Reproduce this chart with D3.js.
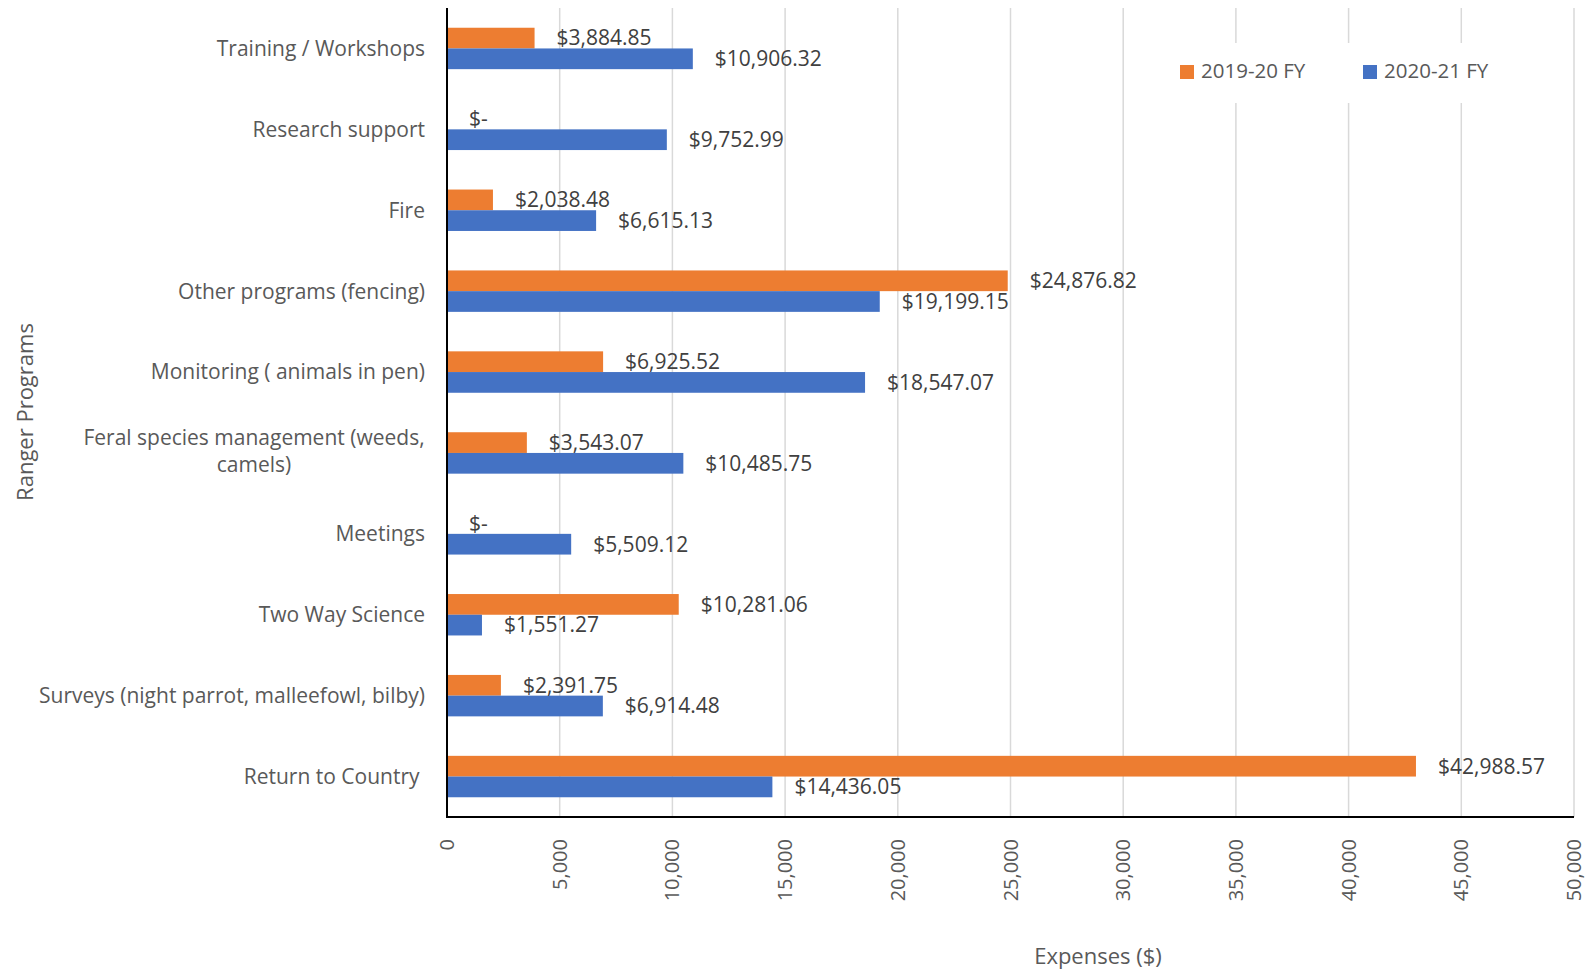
<!DOCTYPE html>
<html>
<head>
<meta charset="utf-8">
<script src="https://cdn.jsdelivr.net/npm/d3@7"></script>
<style>
  html, body { margin: 0; padding: 0; background: #ffffff; }
  svg { display: block; font-family: "Open Sans", "DejaVu Sans", sans-serif; }
</style>
</head>
<body>
<svg id="chart" width="1588" height="972"></svg>
<script>
// Ranger program expenses by financial year
const categories = [
  "Training / Workshops",
  "Research support",
  "Fire",
  "Other programs (fencing)",
  "Monitoring ( animals in pen)",
  "Feral species management (weeds,\ncamels)",
  "Meetings",
  "Two Way Science",
  "Surveys (night parrot, malleefowl, bilby)",
  "Return to Country "
];
const seriesNames = ["2019-20 FY", "2020-21 FY"];
const fy2019 = [3884.85, 0, 2038.48, 24876.82, 6925.52, 3543.07, 0, 10281.06, 2391.75, 42988.57];
const fy2020 = [10906.32, 9752.99, 6615.13, 19199.15, 18547.07, 10485.75, 5509.12, 1551.27, 6914.48, 14436.05];
const xTicks = [0, 5000, 10000, 15000, 20000, 25000, 30000, 35000, 40000, 45000, 50000];
const xMax = 50000;
const xTitle = "Expenses ($)";
const yTitle = "Ranger Programs";

const colors = { "2019-20 FY": "#ED7D31", "2020-21 FY": "#4472C4" };
const seriesValues = { "2019-20 FY": fy2019, "2020-21 FY": fy2020 };

const plot = { left: 447, right: 1574, top: 8, bottom: 817 };
const svg = d3.select("#chart");

const x = d3.scaleLinear().domain([0, xMax]).range([plot.left, plot.right]);
const y = d3.scaleBand().domain(categories).range([plot.top, plot.bottom])
  .paddingInner(0.488).paddingOuter(0.244);
const ySub = d3.scaleBand().domain(seriesNames).range([0, y.bandwidth()]);

// vertical gridlines
svg.append("g")
  .selectAll("line")
  .data(xTicks.filter(t => t > 0))
  .join("line")
  .attr("x1", d => x(d)).attr("x2", d => x(d))
  .attr("y1", plot.top).attr("y2", plot.bottom)
  .attr("stroke", "#d9d9d9").attr("stroke-width", 1.5);

// bars
const rows = categories.map((c, i) => ({ c, i }));
const group = svg.append("g").selectAll("g")
  .data(rows).join("g")
  .attr("transform", d => `translate(0,${y(d.c)})`);

group.selectAll("rect")
  .data(d => seriesNames.map(s => ({ s, v: seriesValues[s][d.i] })))
  .join("rect")
  .attr("x", x(0))
  .attr("y", d => ySub(d.s))
  .attr("width", d => x(d.v) - x(0))
  .attr("height", ySub.bandwidth())
  .attr("fill", d => colors[d.s]);

// value labels
const money = d3.format(",.2f");
group.selectAll("text")
  .data(d => seriesNames.map(s => ({ s, v: seriesValues[s][d.i] })))
  .join("text")
  .attr("x", d => x(d.v) + 22)
  .attr("y", d => ySub(d.s) + ySub.bandwidth() / 2)
  .attr("dy", "0.35em")
  .attr("font-size", 21)
  .attr("fill", "#404040")
  .text(d => d.v === 0 ? "$-" : "$" + money(d.v));

// legend (white box over the gridlines)
const legend = svg.append("g");
legend.append("rect")
  .attr("x", 1150).attr("y", 43).attr("width", 410).attr("height", 60)
  .attr("fill", "#ffffff");
const legendX = [1180, 1363];
seriesNames.forEach((s, i) => {
  legend.append("rect")
    .attr("x", legendX[i]).attr("y", 65).attr("width", 14).attr("height", 14)
    .attr("fill", colors[s]);
  legend.append("text")
    .attr("x", legendX[i] + 21).attr("y", 71).attr("dy", "0.35em")
    .attr("font-size", 20.5).attr("fill", "#595959")
    .text(s);
});

// axes lines
svg.append("line")
  .attr("x1", plot.left).attr("x2", plot.left)
  .attr("y1", plot.top).attr("y2", plot.bottom + 1)
  .attr("stroke", "#000").attr("stroke-width", 2);
svg.append("line")
  .attr("x1", plot.left - 1).attr("x2", plot.right)
  .attr("y1", plot.bottom).attr("y2", plot.bottom)
  .attr("stroke", "#000").attr("stroke-width", 2);

// x tick labels, rotated
const tickFmt = d3.format(",");
svg.append("g").selectAll("text")
  .data(xTicks).join("text")
  .attr("transform", d => `translate(${x(d)},839) rotate(-90)`)
  .attr("text-anchor", "end")
  .attr("dy", "0.35em")
  .attr("font-size", 20)
  .attr("fill", "#595959")
  .text(d => tickFmt(d));

// category labels
svg.append("g").selectAll("text")
  .data(categories).join("text")
  .attr("font-size", 21)
  .attr("fill", "#595959")
  .style("white-space", "pre")
  .each(function (d) {
    const lines = d.split("\n");
    const t = d3.select(this);
    const cy = y(d) + y.bandwidth() / 2;
    if (lines.length === 1) {
      t.attr("x", 425).attr("y", cy).attr("dy", "0.35em")
        .attr("text-anchor", "end").text(d);
    } else {
      t.attr("text-anchor", "middle");
      lines.forEach((ln, k) => {
        t.append("tspan")
          .attr("x", 254)
          .attr("y", cy - 2 + (k - (lines.length - 1) / 2) * 27)
          .attr("dy", "0.35em")
          .text(ln);
      });
    }
  });

// axis titles
svg.append("text")
  .attr("x", 1098).attr("y", 956).attr("dy", "0.35em")
  .attr("text-anchor", "middle")
  .attr("font-size", 22).attr("fill", "#595959")
  .text(xTitle);
svg.append("text")
  .attr("transform", "translate(25,412) rotate(-90)")
  .attr("dy", "0.35em")
  .attr("text-anchor", "middle")
  .attr("font-size", 22).attr("fill", "#595959")
  .text(yTitle);
</script>
</body>
</html>
